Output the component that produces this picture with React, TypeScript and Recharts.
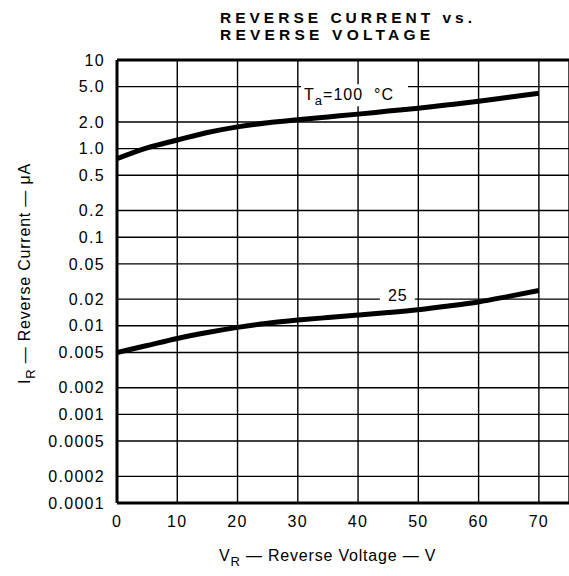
import { LineChart, Line, XAxis, YAxis, CartesianGrid, ReferenceLine, ReferenceDot } from "recharts";

// reverse voltage V_R (V)
const voltages = [0, 5, 10, 15, 20, 25, 30, 35, 40, 45, 50, 55, 60, 65, 70];
// reverse current I_R (uA) at Ta = 100 C
const ir100 = [0.77, 1.02, 1.25, 1.52, 1.76, 1.96, 2.12, 2.28, 2.45, 2.65, 2.86, 3.12, 3.42, 3.8, 4.2];
// reverse current I_R (uA) at Ta = 25 C
const ir25 = [0.005, 0.006, 0.0072, 0.0084, 0.0096, 0.0107, 0.0116, 0.0124, 0.0132, 0.0141, 0.0152, 0.0167, 0.0186, 0.0215, 0.025];

const xTicks = [0, 10, 20, 30, 40, 50, 60, 70];
const yTicks = [10, 5, 2, 1, 0.5, 0.2, 0.1, 0.05, 0.02, 0.01, 0.005, 0.002, 0.001, 0.0005, 0.0002, 0.0001];
const yTickLabels = ["10", "5.0", "2.0", "1.0", "0.5", "0.2", "0.1", "0.05", "0.02", "0.01", "0.005", "0.002", "0.001", "0.0005", "0.0002", "0.0001"];

const titleLines = ["REVERSE CURRENT vs.", "REVERSE VOLTAGE"];

const FONT = "'Liberation Sans', Arial, sans-serif";

const data = voltages.map((v, i) => ({ v, t100: ir100[i], t25: ir25[i] }));

const tickStyle = { fill: "#000", fontSize: 16, fontFamily: FONT, letterSpacing: 1.3 };

function TaLabel(p: any) {
  const { cx, cy } = p;
  return (
    <g>
      <rect x={cx - 51} y={cy - 11} width={107} height={22} fill="#fff" />
      <text x={cx - 48} y={cy + 5} fontSize={16} fontFamily={FONT} fill="#000" letterSpacing={1}>
        <tspan>T</tspan>
        <tspan dy={5} fontSize={13}>a</tspan>
        <tspan dy={-5}>{"=100\u00a0\u00a0°C"}</tspan>
      </text>
    </g>
  );
}

function T25Label(p: any) {
  const { cx, cy } = p;
  return (
    <g>
      <rect x={cx - 18} y={cy - 8} width={35} height={15} fill="#fff" />
      <text x={cx} y={cy + 6} textAnchor="middle" fontSize={16} fontFamily={FONT} fill="#000" letterSpacing={1}>25</text>
    </g>
  );
}

export default function App() {
  return (
    <div style={{ position: "absolute", left: 0, top: 0, width: 569, height: 576, background: "#fff" }}>
      <LineChart width={569} height={576} data={data} margin={{ top: 60, right: 0, bottom: 43, left: 0 }}>
        <CartesianGrid stroke="#000" strokeWidth={1.4} />
        <XAxis
          dataKey="v"
          type="number"
          domain={[0, 75]}
          ticks={xTicks}
          allowDataOverflow
          height={30}
          tickLine={false}
          tickMargin={7}
          axisLine={{ stroke: "#000", strokeWidth: 3 }}
          tick={tickStyle}
        />
        <YAxis
          type="number"
          scale="log"
          domain={[0.0001, 10]}
          ticks={yTicks}
          allowDataOverflow
          width={117}
          tickLine={false}
          tickMargin={6}
          axisLine={{ stroke: "#000", strokeWidth: 3 }}
          tick={tickStyle}
          tickFormatter={(t: number) => yTickLabels[yTicks.indexOf(t)] ?? String(t)}
        />
        <ReferenceLine y={10} stroke="#000" strokeWidth={3} />
        <ReferenceDot x={39} y={4} r={1} shape={TaLabel} />
        <ReferenceDot x={46.6} y={0.0225} r={1} shape={T25Label} />
        <Line type="monotone" dataKey="t100" stroke="#000" strokeWidth={5} dot={false} isAnimationActive={false} />
        <Line type="monotone" dataKey="t25" stroke="#000" strokeWidth={5} dot={false} isAnimationActive={false} />
      </LineChart>
      <svg width={569} height={576} style={{ position: "absolute", left: 0, top: 0, pointerEvents: "none" }}>
        <text x={220} y={23} fontSize={15.5} fontWeight="bold" fontFamily={FONT} fill="#000" textLength={252} lengthAdjust="spacing">
          {titleLines[0]}
        </text>
        <text x={220} y={40} fontSize={15.5} fontWeight="bold" fontFamily={FONT} fill="#000" textLength={210} lengthAdjust="spacing">
          {titleLines[1]}
        </text>
        <text x={219} y={561} fontSize={16} fontFamily={FONT} fill="#000" letterSpacing={0.8}>
          <tspan>V</tspan>
          <tspan dy={5} fontSize={13}>R</tspan>
          <tspan dy={-5}> — Reverse Voltage — V</tspan>
        </text>
        <text x={30} y={384} transform="rotate(-90 30 384)" fontSize={16} fontFamily={FONT} fill="#000" letterSpacing={0.8}>
          <tspan>I</tspan>
          <tspan dy={5} fontSize={13}>R</tspan>
          <tspan dy={-5}> — Reverse Current — μA</tspan>
        </text>
      </svg>
    </div>
  );
}
